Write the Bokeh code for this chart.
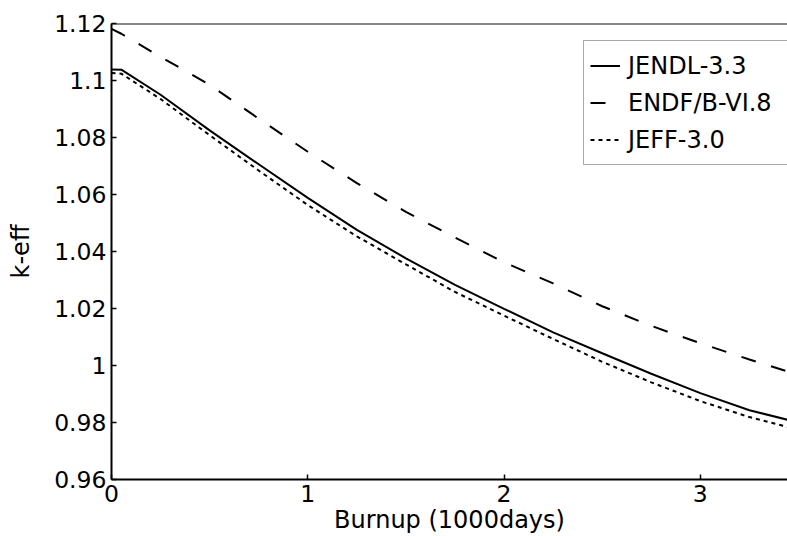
from bokeh.plotting import figure
from bokeh.models import Range1d, FixedTicker, Legend, LegendItem, Span
from bokeh.embed import file_html
from bokeh.resources import INLINE

# Burnup in 1000 days
burnup = [0, 0.05, 0.25, 0.5, 0.75, 1.0, 1.25, 1.5, 1.75, 2.0, 2.25, 2.5, 2.75,
          3.0, 3.25, 3.5]
jendl = [1.1039, 1.1038, 1.0950, 1.0825, 1.0706, 1.0588, 1.0476, 1.0376, 1.0283,
         1.0199, 1.0116, 1.0043, 0.9971, 0.9903, 0.9843, 0.9800]
endf = [1.1181, 1.1164, 1.1083, 1.0985, 1.0866, 1.0750, 1.0640, 1.0539, 1.0449,
        1.0362, 1.0288, 1.0208, 1.0139, 1.0078, 1.0021, 0.9967]
jeff = [1.1026, 1.1024, 1.0935, 1.0808, 1.0684, 1.0563, 1.0453, 1.0355, 1.0258,
        1.0175, 1.0093, 1.0013, 0.9941, 0.9875, 0.9819, 0.9775]
series_names = ["JENDL-3.3", "ENDF/B-VI.8", "JEFF-3.0"]

x_ticks = [0, 1, 2, 3]
x_labels = ["0", "1", "2", "3"]
y_ticks = [0.96, 0.98, 1.0, 1.02, 1.04, 1.06, 1.08, 1.1, 1.12]
y_labels = ["0.96", "0.98", "1", "1.02", "1.04", "1.06", "1.08", "1.1", "1.12"]

FONT = "DejaVu Sans"

p = figure(width=787, height=536, output_backend="svg", toolbar_location=None,
           x_range=Range1d(0, 3.444), y_range=Range1d(0.96, 1.12),
           min_border_left=111, min_border_right=0, min_border_top=23,
           min_border_bottom=56)

p.xgrid.visible = False
p.ygrid.visible = False
p.outline_line_color = None
p.background_fill_color = "white"
p.border_fill_color = "white"

r1 = p.line(burnup, jendl, line_color="black", line_width=2)
r2 = p.line(burnup, endf, line_color="black", line_width=2, line_dash="15 16")
r3 = p.line(burnup, jeff, line_color="black", line_width=2, line_dash="4 4")

top = Span(location=y_ticks[-1], dimension="width", line_color="#111111", line_width=2)
p.add_layout(top)

p.xaxis.ticker = FixedTicker(ticks=x_ticks)
p.xaxis.major_label_overrides = dict(zip(x_ticks, x_labels))
p.yaxis.ticker = FixedTicker(ticks=y_ticks)
p.yaxis.major_label_overrides = dict(zip(y_ticks, y_labels))

for ax in (p.xaxis[0], p.yaxis[0]):
    ax.axis_line_color = "black"
    ax.axis_line_width = 2
    ax.major_tick_in = 5
    ax.major_tick_out = 0
    ax.major_tick_line_color = "black"
    ax.major_tick_line_width = 1.5
    ax.minor_tick_line_color = None
    ax.major_label_text_font = FONT
    ax.major_label_text_font_size = "23.5px"
    ax.major_label_text_color = "black"
    ax.axis_label_text_font = FONT
    ax.axis_label_text_font_size = "24px"
    ax.axis_label_text_font_style = "normal"
    ax.axis_label_text_color = "black"

p.xaxis.axis_label = "Burnup (1000days)"
p.yaxis.axis_label = "k-eff"
p.xaxis.major_label_standoff = 5
p.yaxis.major_label_standoff = 5
p.xaxis.axis_label_standoff = 1
p.yaxis.axis_label_standoff = 16

legend = Legend(items=[LegendItem(label=series_names[0], renderers=[r1]),
                       LegendItem(label=series_names[1], renderers=[r2]),
                       LegendItem(label=series_names[2], renderers=[r3])],
                location=(472, 314))
legend.label_text_font = FONT
legend.label_text_font_size = "24px"
legend.label_text_color = "black"
legend.border_line_color = "#555555"
legend.border_line_width = 1
legend.background_fill_alpha = 1
legend.padding = 6
legend.spacing = 0
legend.margin = 0
legend.glyph_width = 30
legend.glyph_height = 37
legend.label_height = 37
legend.label_width = 170
legend.label_standoff = 8
p.add_layout(legend)

open("out.html", "w").write(file_html(p, INLINE))
